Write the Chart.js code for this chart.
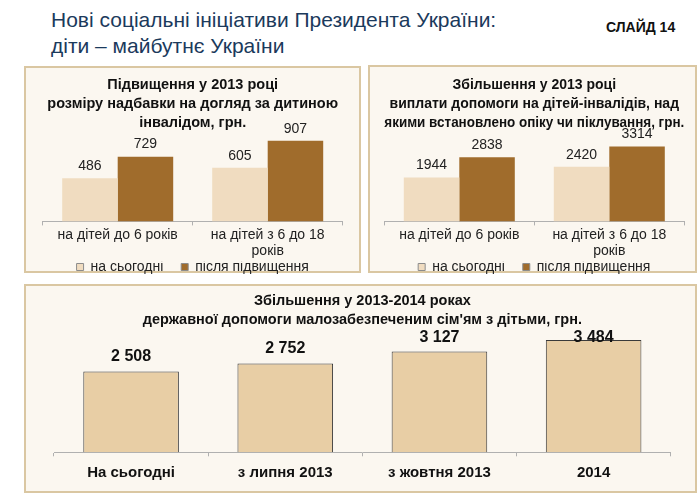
<!DOCTYPE html>
<html>
<head>
<meta charset="utf-8">
<script src="https://cdn.jsdelivr.net/npm/chart.js@4.4.1/dist/chart.umd.min.js"></script>
<style>
  body { margin: 0; background: #fff; width: 700px; height: 496px; overflow: hidden; position: relative; font-family: 'Liberation Sans', Arial, sans-serif; }
  .head { position: absolute; left: 51px; top: 7px; font-size: 21px; line-height: 26px; color: #1b3a5c; }
  .slide { position: absolute; left: 606px; top: 19px; font-size: 14px; font-weight: bold; color: #111; }
  .panel { position: absolute; box-sizing: border-box; background: #fbf7f0; border: 2px solid #dac7a2; }
  canvas { position: absolute; }
</style>
</head>
<body>
<div class="head">Нові соціальні ініціативи Президента України:<br>діти – майбутнє України</div>
<div class="slide">СЛАЙД 14</div>

<div class="panel" style="left:24px;top:66px;width:337px;height:207px"></div>
<div class="panel" style="left:368px;top:65px;width:329px;height:208px"></div>
<div class="panel" style="left:24px;top:284px;width:673px;height:209px"></div>

<canvas id="careChart" width="337" height="217" style="left:24px;top:67px"></canvas>
<canvas id="disabledChart" width="329" height="217" style="left:368px;top:67px"></canvas>
<canvas id="familyChart" width="673" height="208" style="left:24px;top:285px"></canvas>

<script>
// categories and series
var ageCats = [['на дітей до 6 років'], ['на дітей з 6 до 18', 'років']];
var seriesNames = ['на сьогодні', 'після підвищення'];

var careTitle = ['Підвищення у 2013 році', 'розміру надбавки на догляд за дитиною', 'інвалідом, грн.'];
var careNow = [486, 605];
var careAfter = [729, 907];

var disabledTitle = ['Збільшення у 2013 році', 'виплати допомоги на дітей-інвалідів, над', 'якими встановлено опіку чи піклування, грн.'];
var disabledNow = [1944, 2420];
var disabledAfter = [2838, 3314];

var familyTitle = ['Збільшення у 2013-2014 роках', 'державної допомоги малозабезпеченим сім\'ям з дітьми, грн.'];
var familyCats = ['На сьогодні', 'з липня 2013', 'з жовтня 2013', '2014'];
var familyValues = [2508, 2752, 3127, 3484];

var FONT = "'Liberation Sans', Arial, sans-serif";

// value labels above the bars
var valueLabels = {
    id: 'valueLabels',
    afterDatasetsDraw: function (chart, args, opts) {
        var ctx = chart.ctx;
        ctx.save();
        ctx.font = opts.font;
        ctx.fillStyle = opts.color;
        ctx.textAlign = 'center';
        ctx.textBaseline = 'middle';
        chart.data.datasets.forEach(function (ds, i) {
            chart.getDatasetMeta(i).data.forEach(function (bar, j) {
                var y = bar.y - opts.offset;
                if (opts.clamp) {
                    y = Math.max(y, chart.chartArea.top + opts.clamp);
                }
                var txt = String(ds.data[j]);
                if (opts.spaced) {
                    txt = txt.replace(/\B(?=(\d{3})+(?!\d))/g, ' ');
                }
                ctx.fillText(txt, bar.x, y);
            });
        });
        ctx.restore();
    }
};

function pairChart(id, title, now, after, yMax, pad, titleOpts) {
    var ctx = document.getElementById(id).getContext('2d');
    return new Chart(ctx, {
        type: 'bar',
        data: {
            labels: ageCats,
            datasets: [{
                label: seriesNames[0],
                data: now,
                backgroundColor: '#f0dcc0',
                borderWidth: 0
            }, {
                label: seriesNames[1],
                data: after,
                backgroundColor: '#a06c2c',
                borderWidth: 0
            }]
        },
        options: {
            responsive: false,
            animation: false,
            layout: { padding: { left: pad[0], right: pad[1], top: 0, bottom: 0 } },
            datasets: { bar: { categoryPercentage: 0.74, barPercentage: 1 } },
            scales: {
                x: {
                    grid: { drawOnChartArea: false, tickLength: 4, color: '#b0b0b0' },
                    border: { color: '#b0b0b0' },
                    ticks: { color: '#222', padding: 2, font: { family: FONT, size: 14, lineHeight: 1.15 } }
                },
                y: { display: false, min: 0, max: yMax }
            },
            plugins: {
                title: {
                    display: true,
                    text: title,
                    color: '#111',
                    font: { family: FONT, size: titleOpts.size, weight: 'bold', lineHeight: titleOpts.lh },
                    padding: { top: titleOpts.top, bottom: titleOpts.bottom }
                },
                legend: {
                    position: 'bottom',
                    labels: {
                        color: '#222',
                        boxWidth: 7,
                        boxHeight: 7,
                        padding: -1.6,
                        font: { family: FONT, size: 14, lineHeight: 1.2 },
                        generateLabels: function (chart) {
                            var items = Chart.defaults.plugins.legend.labels.generateLabels(chart);
                            items.forEach(function (it, k) {
                                it.lineWidth = 1;
                                it.strokeStyle = '#8c8c8c';
                                // gap before the next legend entry
                                if (k < items.length - 1) it.text += '     ';
                            });
                            return items;
                        }
                    }
                },
                tooltip: { enabled: false },
                valueLabels: { font: '14px ' + FONT, color: '#222', offset: 12, clamp: 0 }
            }
        },
        plugins: [valueLabels]
    });
}

pairChart('careChart', careTitle, careNow, careAfter, 1000, [18.7, 18.3], { size: 14.5, lh: 1.3, top: 9, bottom: 0 });
pairChart('disabledChart', disabledTitle, disabledNow, disabledAfter, 3950, [16.3, 12.7], { size: 14, lh: 1.35, top: 8.5, bottom: 0 });

new Chart(document.getElementById('familyChart').getContext('2d'), {
    type: 'bar',
    data: {
        labels: familyCats,
        datasets: [{
            label: 'грн.',
            data: familyValues,
            backgroundColor: '#e8cea5',
            borderColor: '#3a3a3a',
            borderWidth: 1
        }]
    },
    options: {
        responsive: false,
        animation: false,
        layout: { padding: { left: 30, right: 26.3, top: 0, bottom: 0 } },
        datasets: { bar: { categoryPercentage: 0.62, barPercentage: 1 } },
        scales: {
            x: {
                grid: { drawOnChartArea: false, tickLength: 4, color: '#b0b0b0' },
                border: { color: '#b0b0b0' },
                ticks: { color: '#111', padding: 8, font: { family: FONT, size: 15, weight: 'bold', lineHeight: 1.2 } },
                afterFit: function (scale) { scale.height = 40.7; }
            },
            y: { display: false, min: 0, max: 3800 }
        },
        plugins: {
            title: {
                display: true,
                text: familyTitle,
                color: '#111',
                font: { family: FONT, size: 14.5, weight: 'bold', lineHeight: 1.3 },
                padding: { top: 6.5, bottom: 0.5 }
            },
            legend: { display: false },
            tooltip: { enabled: false },
            valueLabels: { font: 'bold 16px ' + FONT, color: '#111', offset: 15, clamp: 8, spaced: true }
        }
    },
    plugins: [valueLabels]
});
</script>
</body>
</html>
